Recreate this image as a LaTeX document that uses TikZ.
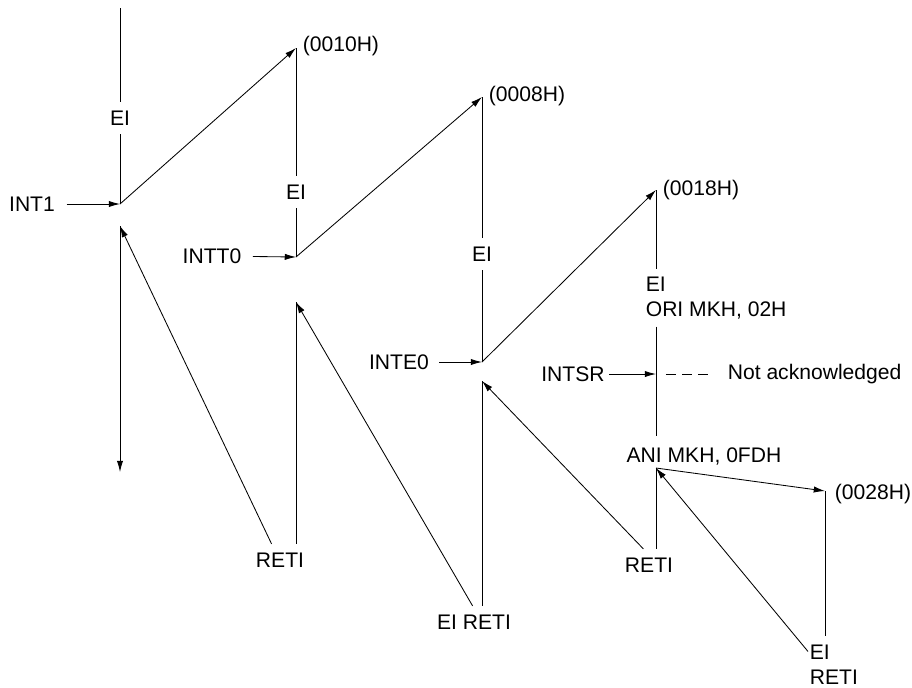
\documentclass[tikz,border=0pt]{standalone}
\usepackage{fontspec}
\setmainfont{Liberation Sans}
\usetikzlibrary{arrows.meta}
\tikzset{
  lbl/.style={inner sep=1pt, font=\fontsize{15}{18}\selectfont},
  gap/.style={lbl, inner ysep=6pt},
  arr/.style={-{Latex[length=8pt,width=4.5pt]}}
}
\begin{document}
\begin{tikzpicture}[x=0.025cm,y=-0.025cm,line width=0.6pt]
                \useasboundingbox (0,0) rectangle (912,687);
                %%%  Points where the lines meet
                \coordinate (top1) at (120,8);
                \coordinate (j1) at (120,204);
                \coordinate (b1) at (120,226);
                \coordinate (d1) at (120,472);
                \coordinate (a10) at (296,48);
                \coordinate (j2) at (296,257);
                \coordinate (b2) at (296,302);
                \coordinate (a08) at (482,97);
                \coordinate (j3) at (482,362);
                \coordinate (b3) at (482,381);
                \coordinate (a18) at (656,190);
                \coordinate (i4) at (656,374);
                \coordinate (j5) at (656,468);
                \coordinate (a28) at (825,491);
                %%% Interrupt names
                \node[lbl] (int1) at (32,204) {INT1};
                \node[lbl] (intt0) at (212,256) {INTT0};
                \node[lbl] (inte0) at (399,362) {INTE0};
                \node[lbl] (intsr) at (573,374) {INTSR};
                \node[lbl,anchor=west] (nack) at (726,374) {Not acknowledged};
                %%% Vector addresses
                \node[lbl,anchor=west] (h10) at (301,46) {(0010H)};
                \node[lbl,anchor=west] (h08) at (487,96) {(0008H)};
                \node[lbl,anchor=west] (h18) at (661,190) {(0018H)};
                \node[lbl,anchor=west] (h28) at (833,494) {(0028H)};
                %%% Instructions on the lines
                \node[gap] (ei1) at (120,118) {EI};
                \node[gap] (ei2) at (296,192) {EI};
                \node[gap] (ei3) at (482,254) {EI};
                \node[lbl,align=left,anchor=west,inner ysep=5pt] (eiori) at (644,298) {EI\\ORI MKH, 02H};
                \node[lbl,inner ysep=8pt] (ani) at (704,456) {ANI MKH, 0FDH};
                \node[gap] (reti1) at (280,560) {RETI};
                \node[gap] (eireti) at (474,622) {EI RETI};
                \node[gap] (reti4) at (649,565) {RETI};
                \node[lbl,align=left,anchor=north west,inner ysep=6pt] (eireti5) at (808,636) {EI\\RETI};
                %%% Vertical lines
                \draw (top1) -- (ei1) -- (j1);
                \draw (a10) -- (ei2) -- (j2);
                \draw (a08) -- (ei3) -- (j3);
                \draw (a18) -- (a18 |- eiori.north);
                \draw (a18 |- eiori.south) -- (a18 |- ani.north);
                \draw[arr] (b1) -- (d1);
                \draw (b2) -- (b2 |- reti1.north);
                \draw (b3) -- (b3 |- eireti.north);
                \draw (j5) -- (j5 |- reti4.north);
                \draw (a28) -- (a28 |- eireti5.north);
                %%% Interrupt requests
                \draw[arr,shorten <=7pt] (int1) -- (j1);
                \draw[arr,shorten <=7pt] (intt0) -- (j2);
                \draw[arr,shorten <=6pt] (inte0) -- (j3);
                \draw[arr,shorten <=2pt] (intsr) -- (i4);
                \draw[dash pattern=on 7pt off 4.5pt] ([xshift=7pt]i4) -- ([xshift=-12pt]nack.west);
                %%% Jumps to the vectors
                \draw[arr] (j1) -- (a10);
                \draw[arr] (j2) -- (a08);
                \draw[arr] (j3) -- (a18);
                \draw[arr] (j5) -- (a28);
                %%% Returns
                \draw[arr] ([xshift=-6pt]reti1.north) -- (b1);
                \draw[arr] ([xshift=-1pt]eireti.north) -- (b2);
                \draw[arr] ([xshift=-4pt]reti4.north) -- (b3);
                \draw[arr] ([yshift=-11pt]eireti5.north west) -- (j5);
\end{tikzpicture}
\end{document}
